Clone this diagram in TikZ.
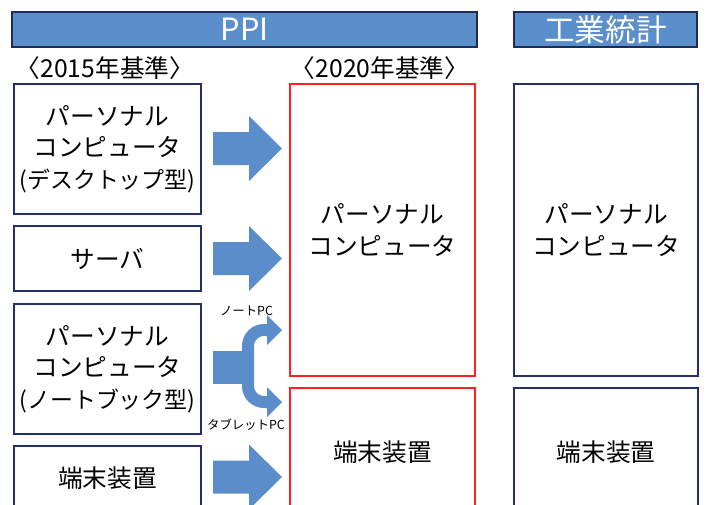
\documentclass[tikz,border=0pt]{standalone}
\usepackage{fontspec}
\setmainfont{Noto Sans CJK JP}
\definecolor{barblue}{HTML}{5B8FCC}
\definecolor{arrblue}{HTML}{5A8DCA}
\definecolor{hdrline}{HTML}{1F2A55}
\definecolor{navy}{HTML}{24306E}
\definecolor{redline}{HTML}{FF2020}
\newcommand{\parenline}[1]{{\fontsize{17.2}{23.6}\selectfont #1}}
\begin{document}
\begin{tikzpicture}[x=0.75pt,y=-0.75pt,
  hdr/.style={draw=hdrline, line width=2.2pt, fill=barblue, text=white, inner sep=0pt,
    font=\fontsize{23}{26}\selectfont},
  lbox/.style={draw=navy, line width=1.1pt, inner sep=0pt},
  rbox/.style={draw=redline, line width=1.1pt, inner sep=0pt},
  jt/.style={font=\fontsize{18.5}{23.6}\selectfont, align=center, inner sep=0pt},
  sub/.style={font=\fontsize{18.5}{20}\selectfont, inner sep=0pt},
  small/.style={font=\fontsize{9.3}{11}\selectfont, inner sep=0pt},
  blk/.style={fill=arrblue, draw=none}]
\useasboundingbox (0,0) rectangle (707,504);
\clip (0,0) rectangle (707,504);
% headers
\node[hdr, minimum width=348.75pt, minimum height=26.25pt] (ppi) at (244.5,29.5) {PPI};
\node[hdr, minimum width=137.25pt, minimum height=26.25pt] (ind) at (605.5,29.5) {工業統計};
\node[sub] (s15) at (105,68) {〈2015年基準〉};
\node[sub] (s20) at (380,68) {〈2020年基準〉};
% left boxes
\node[lbox, jt, minimum width=140.25pt, minimum height=97.5pt] (b1) at (107.5,149)
  {パーソナル\\コンピュータ\\\parenline{(デスクトップ型)}};
\node[lbox, jt, minimum width=140.25pt, minimum height=48.75pt] (b2) at (107.5,258.5) {サーバ};
\node[lbox, jt, minimum width=140.25pt, minimum height=97.5pt] (b3) at (107.5,369)
  {パーソナル\\コンピュータ\\\parenline{(ノートブック型)}};
\node[lbox, minimum width=140.25pt, minimum height=63pt] (b4) at (107.5,488) {};
\node[jt] (b4t) at (107.5,478) {端末装置};
% red boxes
\node[rbox, jt, minimum width=138.75pt, minimum height=219pt] (ra) at (382.5,230)
  {パーソナル\\コンピュータ};
\node[rbox, minimum width=138.75pt, minimum height=106.5pt] (rb) at (382.5,459) {};
\node[jt] (rbt) at (382.5,452) {端末装置};
% right boxes
\node[lbox, jt, minimum width=138pt, minimum height=219pt] (ka) at (606,230)
  {パーソナル\\コンピュータ};
\node[lbox, minimum width=138pt, minimum height=106.5pt] (kb) at (606,459) {};
\node[jt] (kbt) at (606,452) {端末装置};
% block arrows
\foreach \c in {148.5,258.5,477}{
  \fill[blk] (213,\c-16.5) -- (249,\c-16.5) -- (249,\c-32.5) -- (282,\c)
    -- (249,\c+32.5) -- (249,\c+16.5) -- (213,\c+16.5) -- cycle;
}
% forked arrow
\fill[blk] (213,351) rectangle (250,384);
\draw[arrblue, line width=9pt, rounded corners=12pt] (248,368) -- (248,330) -- (268,330);
\draw[arrblue, line width=9pt, rounded corners=12pt] (248,366) -- (248,402) -- (268,402);
\fill[blk] (267,315) -- (282,330) -- (267,345) -- cycle;
\fill[blk] (267,387) -- (282,402) -- (267,417) -- cycle;
\node[small] (nb) at (246.5,311) {ノートPC};
\node[small] (tb) at (246,425) {タブレットPC};
\end{tikzpicture}
\end{document}
